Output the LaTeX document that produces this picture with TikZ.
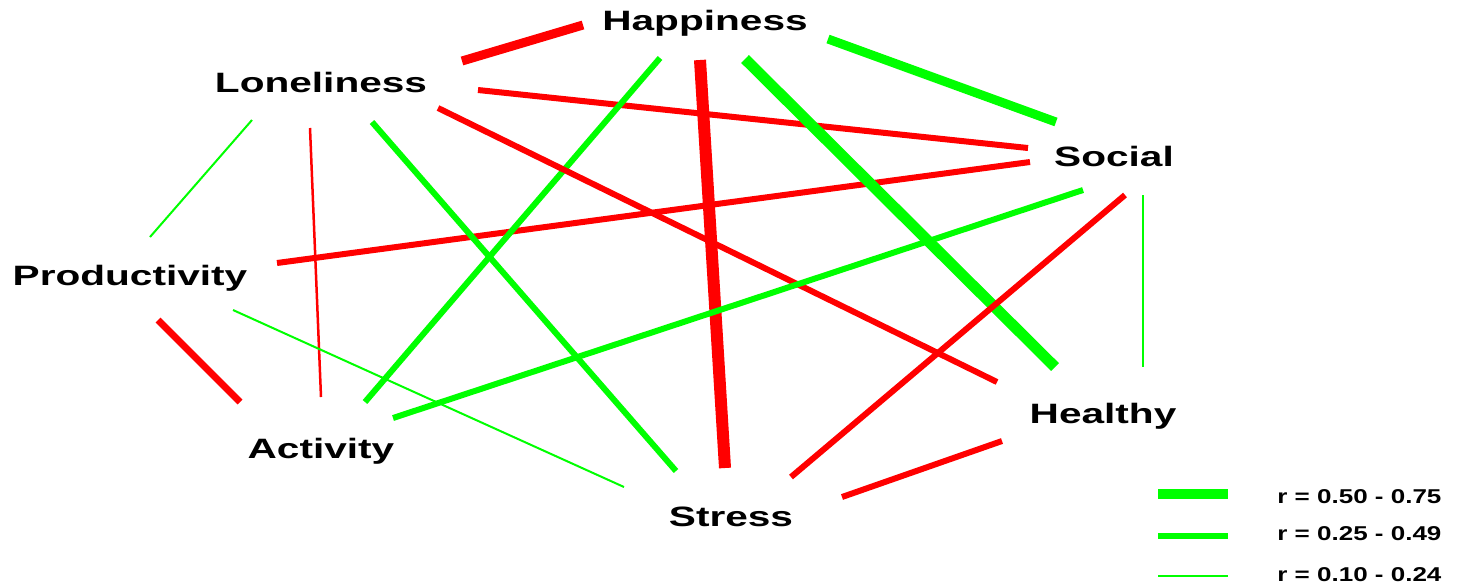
\documentclass[tikz,border=0pt]{standalone}
\usepackage{fontspec}
\setmainfont{Liberation Sans}
\usepackage{graphicx}
\definecolor{pos}{RGB}{0,255,0}
\definecolor{neg}{RGB}{255,0,0}
\newcommand{\wide}[1]{\scalebox{1.45}[1]{#1}}
\newcommand{\keywide}[1]{\scalebox{1.3}[1]{#1}}

\begin{document}
\begin{tikzpicture}[x=0.5pt,y=-0.5pt,
  var/.style={anchor=base,inner sep=0pt,font=\bfseries\fontsize{14}{16}\selectfont},
  key/.style={anchor=base west,inner sep=0pt,font=\bfseries\fontsize{10}{12}\selectfont},
  posr/.style={draw=pos,line width=#1*0.5pt},
  negr/.style={draw=neg,line width=#1*0.5pt}]
  \useasboundingbox (0,0) rectangle (1460,585);
  % variables
  \node[var] (hap) at (705,30) {\wide{Happiness}};
  \node[var] (lon) at (321,92) {\wide{Loneliness}};
  \node[var] (soc) at (1114,166) {\wide{Social}};
  \node[var] (pro) at (130,285) {\wide{Productivity}};
  \node[var] (act) at (321,458) {\wide{Activity}};
  \node[var] (hea) at (1103,423) {\wide{Healthy}};
  \node[var] (str) at (731,526) {\wide{Stress}};
  % line ends round the labels
  \coordinate (lon-hap) at (462,61);  \coordinate (hap-lon) at (583,25);
  \coordinate (hap-soc) at (828,39);  \coordinate (soc-hap) at (1056,122);
  \coordinate (lon-soc) at (478,90);  \coordinate (soc-lon) at (1028,148);
  \coordinate (pro-soc) at (277,263); \coordinate (soc-pro) at (1030,162);
  \coordinate (hap-act) at (660,58);  \coordinate (act-hap) at (365,402);
  \coordinate (hap-str) at (700,60);  \coordinate (str-hap) at (725,468);
  \coordinate (hap-hea) at (745,59);  \coordinate (hea-hap) at (1055,367);
  \coordinate (lon-str) at (372,122); \coordinate (str-lon) at (676,471);
  \coordinate (lon-hea) at (438,108); \coordinate (hea-lon) at (997,382);
  \coordinate (lon-pro) at (252,120); \coordinate (pro-lon) at (150,237);
  \coordinate (lon-act) at (310,128); \coordinate (act-lon) at (321,397);
  \coordinate (pro-act) at (158,320); \coordinate (act-pro) at (240,402);
  \coordinate (pro-str) at (233,310); \coordinate (str-pro) at (624,487);
  \coordinate (act-soc) at (393,418); \coordinate (soc-act) at (1083,190);
  \coordinate (soc-hea) at (1143,195); \coordinate (hea-soc) at (1143,367);
  \coordinate (soc-str) at (1125,195); \coordinate (str-soc) at (791,477);
  \coordinate (hea-str) at (1002,441); \coordinate (str-hea) at (842,497);
  % correlations
  \draw[negr=9] (lon-hap) -- (hap-lon);
  \draw[posr=9] (hap-soc) -- (soc-hap);
  \draw[negr=6] (lon-soc) -- (soc-lon);
  \draw[negr=6] (pro-soc) -- (soc-pro);
  \draw[posr=6] (hap-act) -- (act-hap);
  \draw[negr=12] (hap-str) -- (str-hap);
  \draw[posr=11] (hap-hea) -- (hea-hap);
  \draw[posr=6] (lon-str) -- (str-lon);
  \draw[negr=6] (lon-hea) -- (hea-lon);
  \draw[posr=2] (lon-pro) -- (pro-lon);
  \draw[negr=2.5] (lon-act) -- (act-lon);
  \draw[negr=7] (pro-act) -- (act-pro);
  \draw[posr=2] (pro-str) -- (str-pro);
  \draw[posr=6] (act-soc) -- (soc-act);
  \draw[posr=2] (soc-hea) -- (hea-soc);
  \draw[negr=6] (soc-str) -- (str-soc);
  \draw[negr=6] (hea-str) -- (str-hea);
  % legend
  \node[key] (k1) at (1277,503) {\keywide{r = 0.50 - 0.75}};
  \node[key] (k2) at (1277,540) {\keywide{r = 0.25 - 0.49}};
  \node[key] (k3) at (1277,581) {\keywide{r = 0.10 - 0.24}};
  \coordinate (k1a) at (1158,494); \coordinate (k1b) at (1228,494);
  \coordinate (k2a) at (1158,536); \coordinate (k2b) at (1228,536);
  \coordinate (k3a) at (1158,576); \coordinate (k3b) at (1228,576);
  \draw[posr=10] (k1a) -- (k1b);
  \draw[posr=6.5] (k2a) -- (k2b);
  \draw[posr=2] (k3a) -- (k3b);
\end{tikzpicture}
\end{document}
